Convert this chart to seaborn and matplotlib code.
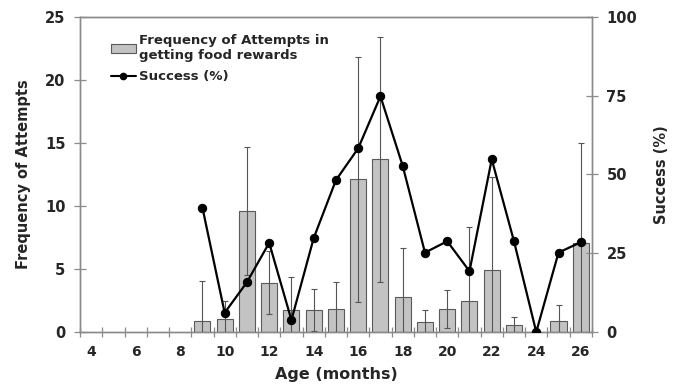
import numpy as np
import pandas as pd
import matplotlib
matplotlib.use("Agg")
import matplotlib.pyplot as plt
import seaborn as sns
from matplotlib.patches import Patch
from matplotlib.lines import Line2D

# ---- data ----
ages = [9, 10, 11, 12, 13, 14, 15, 16, 17, 18, 19, 20, 21, 22, 23, 24, 25, 26]
freq = [0.87, 1.05, 9.6, 3.9, 1.75, 1.75, 1.85, 12.1, 13.7, 2.75, 0.8, 1.8, 2.5, 4.9, 0.55, 0.0, 0.87, 7.1]
freq_err = [3.2, 1.45, 5.1, 2.5, 2.65, 1.65, 2.15, 9.7, 9.7, 3.95, 0.95, 1.5, 5.85, 7.4, 0.65, 0.0, 1.3, 7.9]
success = [39.5, 6.1, 15.8, 28.3, 3.8, 29.8, 48.2, 58.3, 74.8, 52.7, 25.2, 28.8, 19.3, 54.8, 28.8, 0.0, 25.2, 28.5]
xtick_labels = [4, 6, 8, 10, 12, 14, 16, 18, 20, 22, 24, 26]
left_ticks = [0, 5, 10, 15, 20, 25]
right_ticks = [0, 25, 50, 75, 100]

df = pd.DataFrame({"age": ages, "freq": freq, "err": freq_err, "success": success})

sns.set_style("white")
plt.rcParams["font.family"] = ["DejaVu Sans"]
plt.rcParams["font.weight"] = "bold"

fig = plt.figure(figsize=(6.78, 3.92), dpi=100)
ax = fig.add_axes([0.118, 0.153, 0.755, 0.804])

bar_color = "#c3c3c3"
edge = "#5a5a5a"
axis_col = "#8a8a8a"

sns.barplot(data=df, x="age", y="freq", native_scale=True, width=0.72,
            color=bar_color, saturation=1, edgecolor=edge, linewidth=0.8,
            errorbar=None, ax=ax, zorder=2)

lower = np.minimum(df["err"].values, df["freq"].values)
upper = df["err"].values
ax.errorbar(df["age"], df["freq"], yerr=[lower, upper], fmt="none",
            ecolor="#555555", elinewidth=0.8, capsize=2, capthick=0.8, zorder=3)

ax.set_xlim(3.5, 26.5)
ax.set_ylim(0, 25)
ax.set_yticks(left_ticks)
ax.set_xticks(np.arange(3.5, 27.0, 1.0))
ax.set_xticklabels([])
ax.set_xticks(xtick_labels, minor=True)
ax.set_xticklabels([str(t) for t in xtick_labels], minor=True)
ax.tick_params(axis="x", which="minor", bottom=True, length=0, pad=9, labelsize=10)
ax.tick_params(axis="x", which="major", bottom=True, direction="inout", length=7, width=0.9, color=axis_col)
ax.tick_params(axis="y", left=True, direction="inout", length=9, width=0.9, color=axis_col, labelsize=10.5, pad=6)

ax.set_xlabel("Age (months)", fontsize=11.5, fontweight="bold", labelpad=6)
ax.set_ylabel("Frequency of Attempts", fontsize=10.5, fontweight="bold", labelpad=10)

ax2 = ax.twinx()
sns.lineplot(data=df, x="age", y="success", ax=ax2, color="black", linewidth=1.6,
             marker="o", markersize=6, markeredgecolor="black", zorder=4)
ax2.set_ylim(0, 100)
ax2.set_yticks(right_ticks)
ax2.tick_params(axis="y", right=True, direction="inout", length=9, width=0.9, color=axis_col, labelsize=10.5, pad=6)
ax2.set_ylabel("Success (%)", fontsize=10.5, fontweight="bold", labelpad=12)
ax2.set_xlim(3.5, 26.5)

for a in (ax, ax2):
    for s in a.spines.values():
        s.set_color(axis_col)
        s.set_linewidth(1.0)
        s.set_visible(True)

handles = [Patch(facecolor=bar_color, edgecolor=edge, linewidth=0.8),
           Line2D([0], [0], color="black", lw=1.5, marker="o", markersize=4.5)]
labels = ["Frequency of Attempts in\ngetting food rewards", "Success (%)"]
leg = ax2.legend(handles, labels, loc="upper left", bbox_to_anchor=(0.045, 0.97),
                 frameon=False, fontsize=9.5, handlelength=1.9, handleheight=0.7,
                 handletextpad=0.25, labelspacing=0.6, borderaxespad=0.2)
for t in leg.get_texts():
    t.set_fontweight("bold")

fig.savefig("out.png", dpi=100)
